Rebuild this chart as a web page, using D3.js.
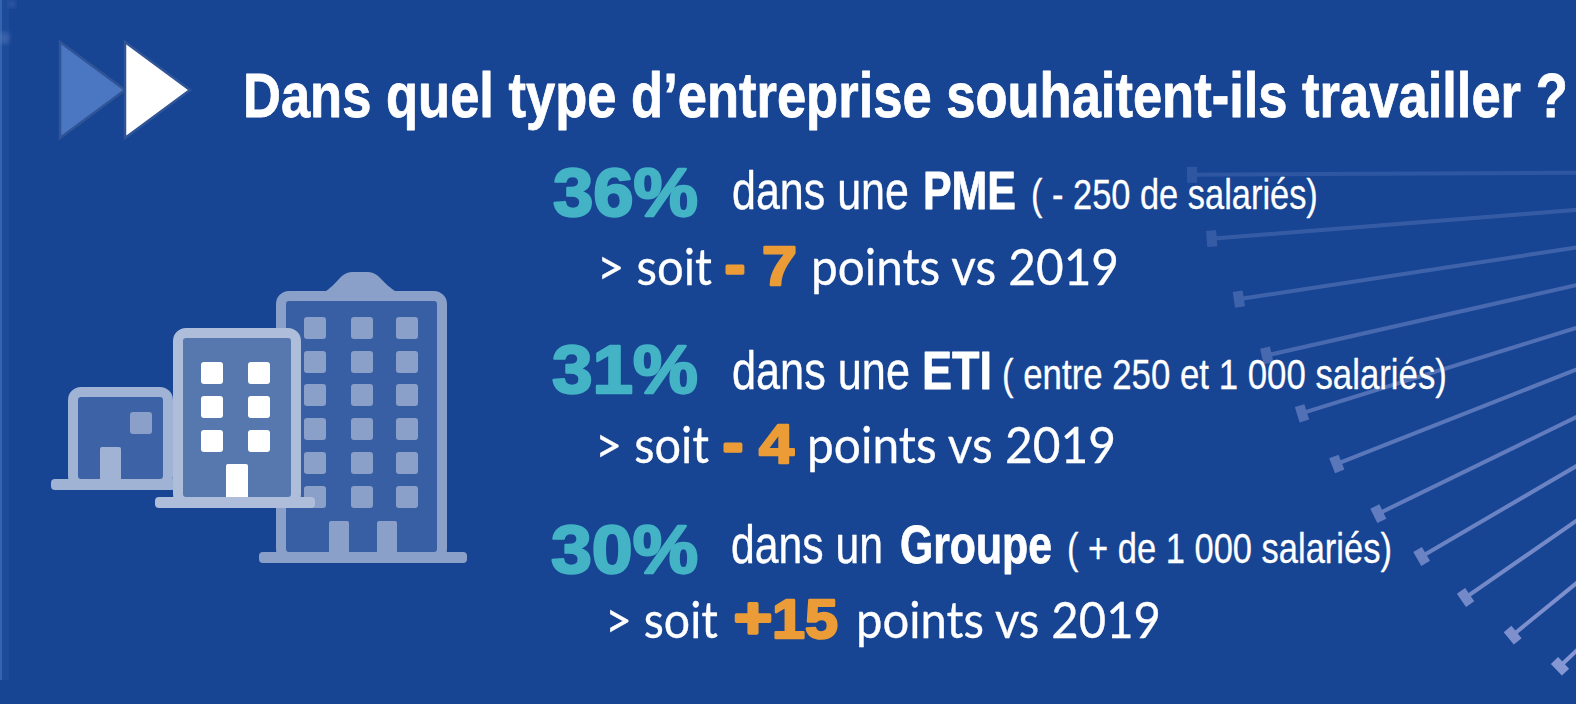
<!DOCTYPE HTML>
<html>
	<head>
		<meta content="text/html;charset=utf-8" http-equiv="Content-Type">
		<style>
			html, body { margin: 0; background: #174594; overflow: hidden; }
			svg { display: block; }
			text { white-space: pre; }
		</style>
		<script type="text/javascript" src="https://d3js.org/d3.v7.min.js"></script>
	</head>
	<body>
	<div id="chart"></div>

	<script type="text/javascript">
	// values
	var titleText = "Dans quel type d\u2019entreprise souhaitent-ils travailler ?";
	var categories = ["PME", "ETI", "Groupe"];
	var shares = [36, 31, 30];
	var deltas = [-7, -4, 15];
	var articles = ["dans une", "dans une", "dans un"];
	var details = ["( - 250 de salari\u00e9s)", "( entre 250 et 1 000 salari\u00e9s)", "( + de 1 000 salari\u00e9s)"];
	var rayAngles = [0.3, 4.5, 8.7, 12.8, 17.3, 21.5, 26.0, 30.3, 34.7, 39.2, 43.5];
	var rayRadii = [895, 878, 858, 841, 822, 806, 788, 770, 755, 740, 725];

	var width = 1576, height = 704;
	var narrow = "'Liberation Sans Narrow', 'Liberation Sans', Arial, sans-serif";
	var heavy = "'Liberation Sans', Arial, sans-serif";
	var soft = "Lato, 'Open Sans', sans-serif";
	var teal = "#43b3c5", orange = "#eb9c37";

	var svg = d3.select("#chart").append("svg").attr("width", width).attr("height", height);
	var defs = svg.append("defs");
	defs.append("filter").attr("id", "soften").append("feGaussianBlur").attr("stdDeviation", 0.6);
	defs.append("filter").attr("id", "smudge").append("feGaussianBlur").attr("stdDeviation", 2.5);
	svg.append("rect").attr("width", width).attr("height", height).attr("fill", "#174594");

	// ---- rays fanning in from the right
	var hub = [2083, 170];
	var rayOpacity = d3.scaleLinear().domain([0, rayAngles.length - 1]).range([0.14, 0.68]);
	var rays = svg.append("g").attr("filter", "url(#soften)")
		.selectAll("g").data(rayAngles).enter().append("g")
		.attr("transform", function(d) { return "translate(" + hub + ") rotate(" + (-d) + ")"; })
		.attr("opacity", function(d, i) { return rayOpacity(i); });
	rays.append("line")
		.attr("x1", function(d, i) { return -rayRadii[i]; })
		.attr("x2", 0)
		.attr("stroke", "#b9bdf0").attr("stroke-width", 4);
	rays.append("line")
		.attr("x1", function(d, i) { return -rayRadii[i] + 4; })
		.attr("x2", function(d, i) { return -rayRadii[i] + 4; })
		.attr("y1", -8).attr("y2", 8)
		.attr("stroke", "#b9bdf0").attr("stroke-width", 10);

	// faint marks on the left edge
	svg.append("rect").attr("width", 2).attr("height", 680).attr("fill", "#3f73b8").attr("opacity", 0.7);
	svg.append("rect").attr("x", 2).attr("width", 7).attr("height", 680).attr("fill", "#2a5aa6").attr("opacity", 0.3);
	svg.append("circle").attr("cx", 12).attr("cy", 4).attr("r", 4).attr("fill", "#6a88c8")
		.attr("opacity", 0.3).attr("filter", "url(#smudge)");
	svg.append("circle").attr("cx", 4).attr("cy", 38).attr("r", 6).attr("fill", "#6a88c8")
		.attr("opacity", 0.4).attr("filter", "url(#smudge)");

	// ---- double arrow
	[[60, "#4a76c2"], [125, "#ffffff"]].forEach(function(a) {
		svg.append("path")
			.attr("d", d3.line()([[a[0], 42], [a[0], 138], [a[0] + 65, 90]]) + "Z")
			.attr("fill", a[1]).attr("stroke", "#2f5596").attr("stroke-width", 2.5);
	});

	// text squeezed or stretched to run from x to x2
	function fitted(g, str, x, y, x2, size, family, weight, fill, stroke) {
		var t = g.append("text")
			.attr("font-family", family).attr("font-size", size).attr("font-weight", weight)
			.attr("fill", fill)
			.text(str);
		if (stroke) {
			t.attr("stroke", fill).attr("stroke-width", stroke).attr("stroke-linejoin", "round");
		}
		var sx = (x2 - x) / t.node().getComputedTextLength();
		t.attr("transform", "translate(" + x + "," + y + ") scale(" + sx + ",1)");
		return t;
	}

	// ---- title
	fitted(svg, titleText, 243, 117, 1568, 63, narrow, "bold", "#ffffff", 0.8);

	// ---- building icon
	var icon = svg.append("g").attr("filter", "url(#soften)");

	function building(b) {
		var g = icon.append("g");
		if (b.roof) {
			g.append("path").attr("d", b.roof).attr("fill", b.frame);
		}
		g.append("rect").attr("x", b.x + 5).attr("y", b.top + 5)
			.attr("width", b.w - 10).attr("height", b.base - b.top)
			.attr("rx", 8).attr("fill", b.fill).attr("stroke", b.frame).attr("stroke-width", 10);
		g.selectAll("rect.win").data(d3.cross(b.rows, b.cols)).enter().append("rect")
			.attr("class", "win")
			.attr("x", function(d) { return d[1] - 11; })
			.attr("y", function(d) { return d[0] - 11; })
			.attr("width", 22).attr("height", 22).attr("rx", 3)
			.attr("fill", b.win);
		g.selectAll("rect.door").data(b.doors).enter().append("rect")
			.attr("class", "door")
			.attr("x", function(d) { return d[0]; })
			.attr("y", b.doorTop)
			.attr("width", d3.max(b.doors, function(d) { return d[1] - d[0]; }))
			.attr("height", b.base - b.doorTop + 2)
			.attr("rx", 2).attr("fill", b.door);
		g.append("rect").attr("x", b.baseX).attr("y", b.base)
			.attr("width", b.baseW).attr("height", 11).attr("rx", 4).attr("fill", b.frame);
	}
	building({ x: 276, w: 171, top: 291, base: 552, fill: "#375fa3", frame: "#8aa0c9", win: "#8aa0c9", door: "#8aa0c9",
		rows: [328, 362, 395, 429, 463, 497], cols: [315, 362, 407], doors: [[329, 349], [377, 397]], doorTop: 521,
		baseX: 259, baseW: 208, roof: "M322,293 C335,288 340,272 352,272 L368,272 C380,272 385,288 400,293 Z" });
	building({ x: 68, w: 105, top: 387, base: 479, fill: "#3c64a6", frame: "#a0b3d4", win: "#8aa0c9", door: "#a0b3d4",
		rows: [423], cols: [141], doors: [[100, 121]], doorTop: 447,
		baseX: 51, baseW: 125 });
	building({ x: 173, w: 128, top: 328, base: 497, fill: "#5678ae", frame: "#aebdda", win: "#ffffff", door: "#ffffff",
		rows: [373, 407, 441], cols: [212, 259], doors: [[226, 248]], doorTop: 464,
		baseX: 155, baseW: 160 });

	// ---- the three rows
	var lineY = d3.scaleOrdinal().domain(categories).range([209, 389, 563]);
	var shareY = d3.scaleOrdinal().domain(categories).range([216, 393, 573]);
	var subY = d3.scaleOrdinal().domain(categories).range([285, 463, 638]);

	// horizontal extents of each piece of text, row by row
	var shareX = [[553, 698], [552, 698], [551, 698]];
	var articleX = [[732, 909], [732, 910], [731, 883]];
	var nameX = [[923, 1016], [922, 992], [900, 1052]];
	var detailX = [[1031, 1318], [1002, 1447], [1067, 1392]];
	var soitX = [[597, 712], [595, 709], [605, 718]];
	var signX = [[725, 745], [723, 743], [734, 772]];
	var deltaX = [[762, 797], [759, 794], [772, 838]];
	var pointsX = [[811, 1119], [807, 1116], [856, 1161]];

	categories.forEach(function(cat, i) {
		var g = svg.append("g");

		fitted(g, shares[i] + "%", shareX[i][0], shareY(cat), shareX[i][1], 68, heavy, "bold", teal, 2.4);
		fitted(g, articles[i], articleX[i][0], lineY(cat), articleX[i][1], 54, narrow, "normal", "#ffffff", 0.4);
		fitted(g, cat, nameX[i][0], lineY(cat), nameX[i][1], 54, narrow, "bold", "#ffffff", 0.8);
		fitted(g, details[i], detailX[i][0], lineY(cat), detailX[i][1], 42, narrow, "normal", "#ffffff", 0.3);

		fitted(g, "> soit", soitX[i][0], subY(cat), soitX[i][1], 50, soft, "normal", "#ffffff", 0.3);
		fitted(g, deltas[i] < 0 ? "-" : "+", signX[i][0], subY(cat), signX[i][1], 58, heavy, "bold", orange, 3.5);
		fitted(g, String(Math.abs(deltas[i])), deltaX[i][0], subY(cat), deltaX[i][1], 56, heavy, "bold", orange, 2.4);
		fitted(g, "points vs 2019", pointsX[i][0], subY(cat), pointsX[i][1], 50, soft, "normal", "#ffffff", 0.3);
	});
	</script>
	</body>
</html>
